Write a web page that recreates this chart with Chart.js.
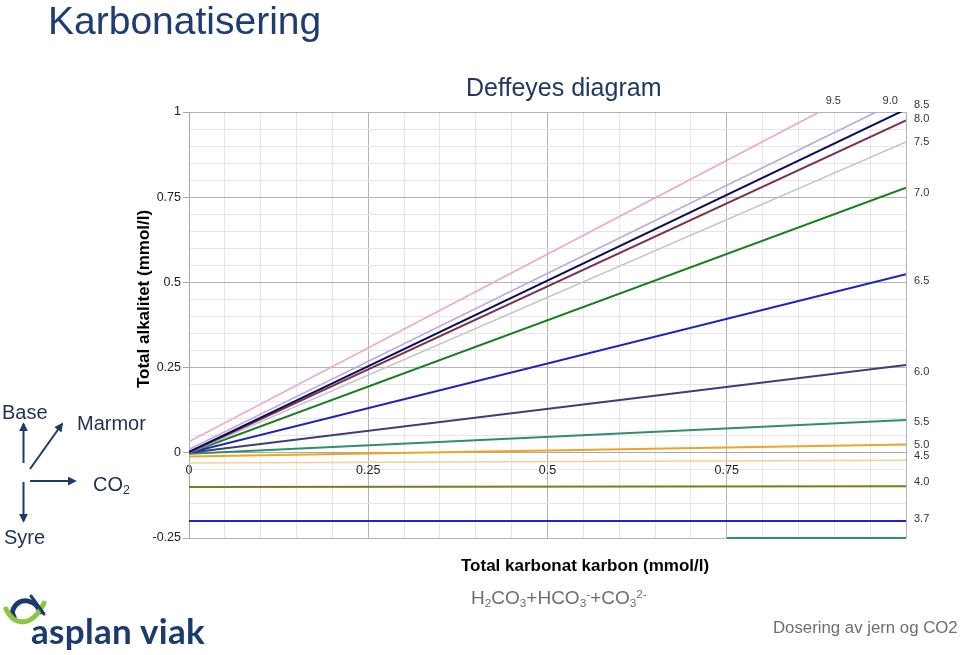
<!DOCTYPE html>
<html>
<head>
<meta charset="utf-8">
<script src="https://cdn.jsdelivr.net/npm/chart.js@4.4.1/dist/chart.umd.min.js"></script>
<style>
html,body{margin:0;padding:0;background:#fff;}
#wrap{position:relative;width:960px;height:655px;overflow:hidden;font-family:"Liberation Sans",Arial,Helvetica,sans-serif;}
#c{position:absolute;left:0;top:0;}
svg{position:absolute;left:0;top:0;}
.t{position:absolute;white-space:nowrap;line-height:1;}
.sub{font-size:0.62em;position:relative;top:0.28em;}
.sup{font-size:0.62em;position:relative;top:-0.55em;}
</style>
</head>
<body>
<div id="wrap">
<canvas id="c" width="960" height="655"></canvas>

<svg width="960" height="655" viewBox="0 0 960 655">
  <defs>
    <marker id="ah" viewBox="0 0 10 10" refX="8" refY="5" markerWidth="4.5" markerHeight="4.5" orient="auto">
      <path d="M0,0 L10,5 L0,10 z" fill="#1F3A6A"/>
    </marker>
  </defs>
  <g stroke="#1F3A6A" stroke-width="2" fill="none">
    <line x1="23.5" y1="463" x2="23.5" y2="424" marker-end="url(#ah)"/>
    <line x1="23.5" y1="482" x2="23.5" y2="521" marker-end="url(#ah)"/>
    <line x1="30" y1="481" x2="75" y2="481" marker-end="url(#ah)"/>
    <line x1="30" y1="469" x2="62" y2="424" marker-end="url(#ah)"/>
  </g>
  <!-- logo mark -->
  <path d="M40 612 C36 600, 22 597, 15 606 C12 610, 12 614, 14 617" stroke="#1B3B6F" stroke-width="5" fill="none" stroke-linecap="round"/>
  <path d="M6 609 C14 626, 32 628, 44 603" stroke="#8DC63F" stroke-width="5" fill="none" stroke-linecap="round"/>
  <path d="M31 596 L44 614" stroke="#1B3B6F" stroke-width="3" fill="none" stroke-linecap="round"/>
</svg>

<div class="t" style="left:48px;top:1px;font-size:39px;color:#1F3C74;">Karbonatisering</div>
<div class="t" style="left:466px;top:75px;font-size:25px;color:#1F3864;">Deffeyes diagram</div>
<div class="t" style="left:2px;top:402px;font-size:20px;color:#1F2F58;">Base</div>
<div class="t" style="left:77px;top:413px;font-size:20px;color:#1F2F58;">Marmor</div>
<div class="t" style="left:93px;top:474px;font-size:20px;color:#1F2F58;">CO<span class="sub">2</span></div>
<div class="t" style="left:4px;top:527px;font-size:20px;color:#1F2F58;">Syre</div>
<div class="t" style="left:143px;top:299px;font-size:17px;font-weight:bold;color:#000;transform:translate(-50%,-50%) rotate(-90deg);">Total alkalitet (mmol/l)</div>
<div class="t" style="left:461px;top:557px;font-size:17px;font-weight:bold;color:#000;">Total karbonat karbon (mmol/l)</div>
<div class="t" style="left:471px;top:588px;font-size:19px;color:#6E6E6E;">H<span class="sub">2</span>CO<span class="sub">3</span>+HCO<span class="sub">3</span><span class="sup">-</span>+CO<span class="sub">3</span><span class="sup">2-</span></div>
<div class="t" style="left:773px;top:620px;font-size:16.8px;color:#6E6E6E;">Dosering av jern og CO2</div>
<div class="t" style="left:31px;top:613px;font-size:35px;font-weight:bold;font-family:Lato,'Open Sans',sans-serif;color:#1B3B6F;letter-spacing:0.3px;">asplan viak</div>
</div>

<script>
// ---- data ----
const phLabels   = ['9.5','9.0','8.5','8.0','7.5','7.0','6.5','6.0','5.5','5.0','4.5','4.0','3.7'];
const dicRange   = [0, 1];                       // total carbonate carbon (mmol/l) at line ends
const alkAtZero  = [0.033, 0.010, 0.003, 0.001, 0.000, 0.000, 0.000, 0.000, -0.003, -0.011, -0.030, -0.100, -0.200];
const alkAtOne   = [1.133, 1.043, 1.008, 0.975, 0.912, 0.778, 0.524, 0.258, 0.096, 0.024, -0.022, -0.098, -0.200];
const baseSegX   = [0.75, 1];
const baseSegY   = [-0.25, -0.25];

// ---- styles ----
const lineColors = ['#F0A3CA','#B9A3F0','#0B0B5E','#7E2F4C','#C4C4C4','#13801A','#1C22C4','#3B3D7C','#2F8F68','#F2A326','#F8CE98','#7E7A1E','#2222CC'];
const lineWidths = [1.6,1.6,2,2,1.6,2,2,2,2,2,1.6,2,2];

const datasets = phLabels.map((lab, i) => ({
  label: 'pH ' + lab,
  data: [{x: dicRange[0], y: alkAtZero[i]}, {x: dicRange[1], y: alkAtOne[i]}],
  borderColor: lineColors[i],
  borderWidth: lineWidths[i],
  pointRadius: 0,
  fill: false,
  tension: 0
}));
datasets.push({
  label: 'base',
  data: baseSegX.map((v, i) => ({x: v, y: baseSegY[i]})),
  borderColor: '#2E8C86',
  borderWidth: 2,
  pointRadius: 0,
  fill: false,
  clip: {left: 0, right: 0, top: 0, bottom: 3}
});

const isMajor = v => Math.abs(v * 4 - Math.round(v * 4)) < 1e-6;
const fmt = v => (Math.abs(v) < 1e-9 ? '0' : String(Math.round(v * 100) / 100));

const phLabelPlugin = {
  id: 'phLabels',
  afterDraw(chart, args, opts) {
    const {ctx, chartArea} = chart;
    const x = chart.scales.x, y = chart.scales.y;
    ctx.save();
    ctx.font = '11px "Liberation Sans", Arial, sans-serif';
    ctx.fillStyle = '#333';
    ctx.textBaseline = 'middle';
    phLabels.forEach((lab, i) => {
      const y0 = alkAtZero[i], y1 = alkAtOne[i];
      const nudge = opts.nudge[lab] || 0;
      const frac = y1 > y.max ? (y.max - y0) / (y1 - y0) : 2;
      if (frac < opts.topThreshold) {
        const xe = x.getPixelForValue(dicRange[0] + (dicRange[1] - dicRange[0]) * frac);
        ctx.textAlign = 'center';
        ctx.fillText(lab, xe + opts.topDx, chartArea.top + opts.topDy);
      } else {
        ctx.textAlign = 'left';
        ctx.fillText(lab, chartArea.right + opts.rightDx, y.getPixelForValue(Math.min(y1, y.max)) + nudge);
      }
    });
    ctx.restore();
  }
};

new Chart(document.getElementById('c'), {
  type: 'line',
  data: { datasets },
  options: {
    responsive: false,
    animation: false,
    devicePixelRatio: 1,
    layout: { padding: { left: 144, top: 112, right: 54, bottom: 117 } },
    plugins: {
      legend: { display: false },
      tooltip: { enabled: false },
      phLabels: {
        topThreshold: 0.97, topDx: 14, topDy: -11, rightDx: 8,
        nudge: {'8.5': -7, '8.0': -2, '7.0': 5, '6.5': 7, '6.0': 7, '5.5': 2, '4.5': -4, '4.0': -4, '3.7': -2}
      }
    },
    scales: {
      x: {
        type: 'linear',
        position: { y: 0 },
        min: 0, max: 1,
        ticks: {
          stepSize: 0.05, autoSkip: false, maxRotation: 0, padding: 10,
          color: '#222', font: { size: 12.5, family: '"Liberation Sans", Arial, sans-serif' },
          callback: v => (isMajor(v) && v < 0.999 ? fmt(v) : '')
        },
        grid: {
          drawTicks: false,
          color: c => (isMajor(c.tick.value) ? '#B4B4B4' : '#E6E6E6'),
          lineWidth: 1
        },
        border: { display: true, color: '#A8A8A8', width: 1 }
      },
      y: {
        type: 'linear',
        position: 'left',
        min: -0.25, max: 1,
        afterFit: s => { s.width = 45; },
        ticks: {
          stepSize: 0.05, autoSkip: false, padding: 2,
          color: '#222', font: { size: 12.5, family: '"Liberation Sans", Arial, sans-serif' },
          callback: v => (isMajor(v) ? fmt(v) : '')
        },
        grid: {
          drawTicks: true, tickLength: 6,
          color: c => (isMajor(c.tick.value) ? '#B4B4B4' : '#E6E6E6'),
          tickColor: c => (isMajor(c.tick.value) ? '#A8A8A8' : 'rgba(0,0,0,0)'),
          lineWidth: 1
        },
        border: { display: true, color: '#A8A8A8', width: 1 }
      }
    }
  },
  plugins: [phLabelPlugin]
});
</script>
</body>
</html>
